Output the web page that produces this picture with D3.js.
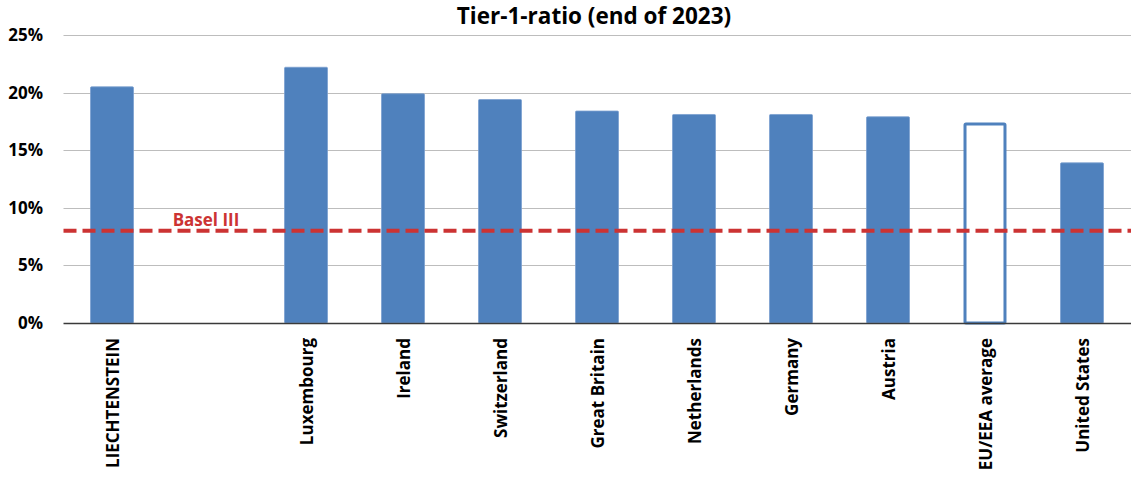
<!DOCTYPE html>
<html>
<head>
<meta charset="utf-8">
<script src="https://cdn.jsdelivr.net/npm/d3@7"></script>
<style>
  body { margin: 0; background: #fff; }
  svg text { font-family: "Open Sans", Lato, sans-serif; font-weight: bold; fill: #000; }
</style>
</head>
<body>
<div id="chart"></div>
<script>
// Tier-1-ratio (end of 2023)
const categories = ["LIECHTENSTEIN", "", "Luxembourg", "Ireland", "Switzerland", "Great Britain",
  "Netherlands", "Germany", "Austria", "EU/EEA average", "United States"];
const values = [20.5, null, 22.2, 19.9, 19.4, 18.4, 18.1, 18.1, 17.9, 17.4, 13.9];
const outlined = ["EU/EEA average"];
const yTicks = [0, 5, 10, 15, 20, 25];
const baselValue = 8;
const baselLabel = "Basel III";

const width = 1131, height = 479;
const margin = { top: 35, right: 0, bottom: 156, left: 63.5 };

const svg = d3.select("#chart")
  .append("svg")
    .attr("width", width)
    .attr("height", height);

const x = d3.scaleBand()
  .domain(categories.map((c, i) => i))
  .range([margin.left, width - 0.5])
  .paddingInner(0.557)
  .paddingOuter(0.557 / 2);

const y = d3.scaleLinear()
  .domain([0, 25])
  .range([height - margin.bottom, margin.top]);

// Title
svg.append("text")
  .attr("x", 594)
  .attr("y", 24)
  .attr("text-anchor", "middle")
  .style("font-size", "22.5px")
  .text("Tier-1-ratio (end of 2023)");

// Gridlines
svg.append("g")
  .selectAll("line")
  .data(yTicks.filter(t => t > 0))
  .enter()
  .append("line")
    .attr("x1", margin.left)
    .attr("x2", width)
    .attr("y1", d => Math.round(y(d)) + 0.5)
    .attr("y2", d => Math.round(y(d)) + 0.5)
    .attr("stroke", "#bdbdbd")
    .attr("stroke-width", 1);

// Y tick labels
svg.append("g")
  .selectAll("text")
  .data(yTicks)
  .enter()
  .append("text")
    .attr("x", 43)
    .attr("y", d => y(d) + 6)
    .attr("text-anchor", "end")
    .style("font-size", "17px")
    .text(d => d + "%");

// Bars
const barData = categories.map((c, i) => ({ i, name: c, value: values[i] }))
  .filter(d => d.value != null);

svg.append("g")
  .selectAll("rect")
  .data(barData)
  .enter()
  .append("rect")
    .attr("x", d => outlined.includes(d.name) ? x(d.i) + 1.5 : x(d.i))
    .attr("y", d => outlined.includes(d.name) ? y(d.value) + 1.5 : y(d.value))
    .attr("width", d => outlined.includes(d.name) ? x.bandwidth() - 3 : x.bandwidth())
    .attr("height", d => (y(0) - y(d.value)) - (outlined.includes(d.name) ? 1.5 : 0))
    .attr("rx", 1)
    .attr("fill", d => outlined.includes(d.name) ? "#fff" : "#4f81bd")
    .attr("stroke", d => outlined.includes(d.name) ? "#4f81bd" : "#7ba0cf")
    .attr("stroke-width", d => outlined.includes(d.name) ? 3 : 0.8);

// Zero axis line
svg.append("line")
  .attr("x1", margin.left)
  .attr("x2", width)
  .attr("y1", Math.round(y(0)) + 0.5)
  .attr("y2", Math.round(y(0)) + 0.5)
  .attr("stroke", "#3a3a3a")
  .attr("stroke-width", 1.3);

// Basel III line
svg.append("line")
  .attr("x1", margin.left)
  .attr("x2", width)
  .attr("y1", y(baselValue))
  .attr("y2", y(baselValue))
  .attr("stroke", "#cc3333")
  .attr("stroke-width", 4)
  .attr("stroke-dasharray", "13,6");

svg.append("text")
  .attr("x", 206)
  .attr("y", y(baselValue) - 5)
  .attr("text-anchor", "middle")
  .style("font-size", "17px")
  .style("fill", "#cc3333")
  .text(baselLabel);

// X labels (rotated)
svg.append("g")
  .selectAll("text")
  .data(categories.map((c, i) => ({ i, name: c })).filter(d => d.name))
  .enter()
  .append("text")
    .attr("transform", d => `translate(${x(d.i) + x.bandwidth() / 2 + 7},${y(0) + 15}) rotate(-90)`)
    .attr("text-anchor", "end")
    .style("font-size", "17px")
    .text(d => d.name);
</script>
</body>
</html>
